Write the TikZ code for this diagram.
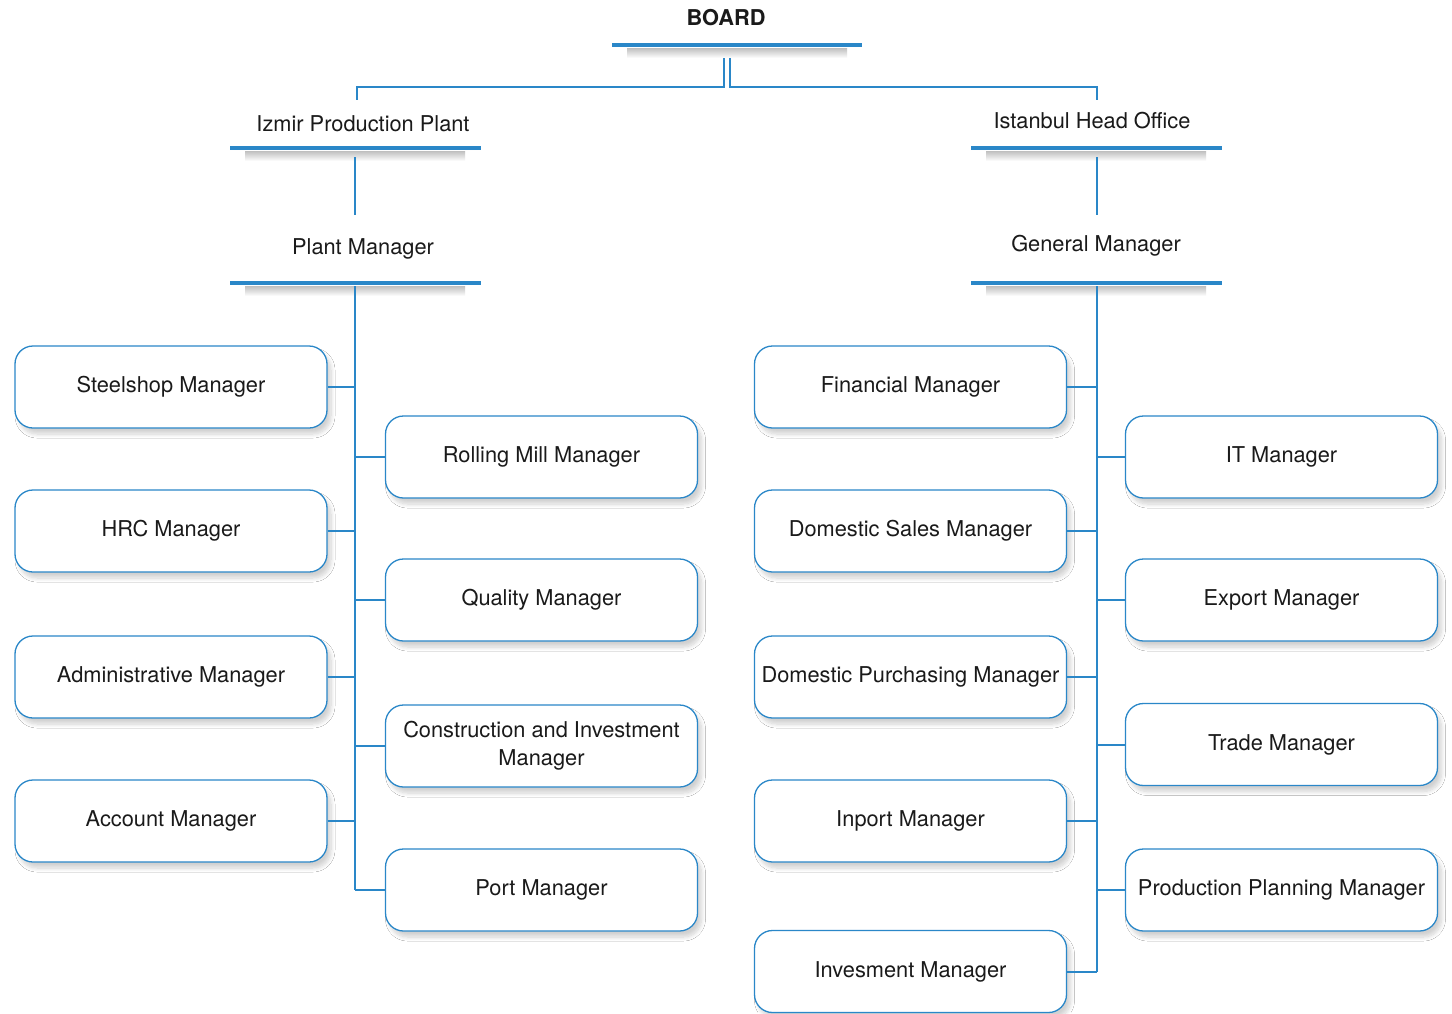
\documentclass[tikz,border=0pt]{standalone}
\usepackage{fontspec}
\setmainfont{TeX Gyre Heros}
\usetikzlibrary{shadows.blur}
\definecolor{orgblue}{HTML}{2A87C8}
\definecolor{txt}{HTML}{1A1A1A}
\begin{document}
\begin{tikzpicture}[x=0.5pt,y=-0.5pt,
  conn/.style={draw=orgblue,line width=1pt},
  mgr/.style={draw=orgblue,line width=0.65pt,fill=white,rounded corners=9pt,
    minimum width=156pt,minimum height=41pt,align=center,text=txt,inner sep=1pt,
    font=\fontsize{10.9}{14}\selectfont,
    blur shadow={shadow xshift=2pt,shadow yshift=-3pt,shadow blur radius=2pt,shadow blur steps=8,shadow opacity=18}},
  hbar/.style={fill=orgblue,minimum width=125.5pt,minimum height=2pt,inner sep=0pt,outer sep=0pt},
  htext/.style={text=txt,font=\fontsize{10.9}{14}\selectfont,inner sep=0pt}]
\useasboundingbox (0,0) rectangle (1452,1013);
\fill[white] (0,0) rectangle (1452,1013);

% --- shadows under bars
\foreach \cx/\cy in {737/45,355/148,355/283,1096/148,1096/283}{
  \shade[top color=black!25,bottom color=white] (\cx-110,\cy+3) rectangle (\cx+110,\cy+13);
}

% --- board
\node[htext,font=\fontsize{10.9}{14}\selectfont\bfseries] (board) at (726,18) {BOARD};
\node[hbar,minimum width=125pt] (boardbar) at (737,45) {};

% --- izmir
\node[htext] (izmir) at (363,124) {Izmir Production Plant};
\node[hbar] (izbar) at (355,148) {};
\node[htext] (pm) at (363,249) {Plant Manager};
\node[hbar] (pmbar) at (355,283) {};

% --- istanbul
\node[htext] (ist) at (1092,121) {Istanbul Head Office};
\node[hbar] (isbar) at (1096,148) {};
\node[htext] (gm) at (1096,246) {General Manager};
\node[hbar] (gmbar) at (1096,283) {};

% --- board connectors
\coordinate (bL) at (724,58);
\coordinate (bR) at (730,58);
\coordinate (izT) at (357,100);
\coordinate (isT) at (1097,100);
\draw[conn] (bL) -- (724,87) -| (izT);
\draw[conn] (bR) -- (730,87) -| (isT);

% --- header connectors
\coordinate (izB) at (355,157);
\coordinate (pmT) at (355,215);
\draw[conn] (izB) -- (pmT);
\coordinate (isB) at (1097,157);
\coordinate (gmT) at (1097,215);
\draw[conn] (isB) -- (gmT);

% --- left boxes
\node[mgr] (steel) at (171,387) {Steelshop Manager};
\node[mgr] (hrc) at (171,531) {HRC Manager};
\node[mgr] (admin) at (171,677) {Administrative Manager};
\node[mgr] (acct) at (171,821) {Account Manager};
\node[mgr] (roll) at (541.5,457) {Rolling Mill Manager};
\node[mgr] (qual) at (541.5,600) {Quality Manager};
\node[mgr] (cons) at (541.5,746) {Construction and Investment\\Manager};
\node[mgr] (port) at (541.5,890) {Port Manager};

% --- right boxes
\node[mgr] (fin) at (910.5,387) {Financial Manager};
\node[mgr] (dsm) at (910.5,531) {Domestic Sales Manager};
\node[mgr] (dpm) at (910.5,677) {Domestic Purchasing Manager};
\node[mgr] (inp) at (910.5,821) {Inport Manager};
\node[mgr] (inv) at (910.5,971.5) {Invesment Manager};
\node[mgr] (itm) at (1281.5,457) {IT Manager};
\node[mgr] (exp) at (1281.5,600) {Export Manager};
\node[mgr] (trd) at (1281.5,744.5) {Trade Manager};
\node[mgr] (ppm) at (1281.5,890) {Production Planning Manager};

% --- trunks
\coordinate (lT) at (355,286);
\coordinate (rT) at (1097,286);
\draw[conn] (lT) -- (lT |- port.west);
\draw[conn] (rT) -- (rT |- inv.east);

% --- branches
\foreach \n in {steel,hrc,admin,acct}{\draw[conn] (\n.east) -- (\n.east -| lT);}
\foreach \n in {roll,qual,cons,port}{\draw[conn] (\n.west) -- (\n.west -| lT);}
\foreach \n in {fin,dsm,dpm,inp,inv}{\draw[conn] (\n.east) -- (\n.east -| rT);}
\foreach \n in {itm,exp,trd,ppm}{\draw[conn] (\n.west) -- (\n.west -| rT);}
\end{tikzpicture}
\end{document}
